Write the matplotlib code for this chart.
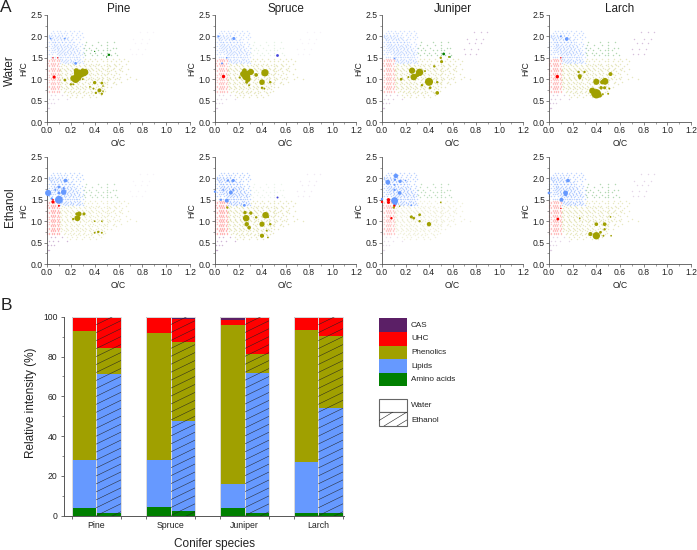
import matplotlib
matplotlib.use("Agg")
import matplotlib.pyplot as plt
from matplotlib.patches import Rectangle
from matplotlib.ticker import MultipleLocator

plt.rcParams["font.family"] = ["Liberation Sans", "DejaVu Sans"]

W, H = 697, 550

species = ["Pine", "Spruce", "Juniper", "Larch"]
solvents = ["Water", "Ethanol"]
classes = ["Amino acids", "Lipids", "Phenolics", "UHC", "CAS"]
class_colors = ["#008000", "#6699ff", "#a0a000", "#ff0000", "#5b1f66"]

# segment heights, bottom to top
amino_water = [4.0, 4.3, 4.0, 1.3]
lipid_water = [24.0, 23.9, 12.0, 25.7]
phenol_water = [64.8, 63.6, 79.8, 66.3]
uhc_water = [6.5, 7.5, 2.7, 6.2]
cas_water = [0.7, 0.7, 1.5, 0.5]

amino_ethanol = [1.3, 2.2, 1.3, 1.3]
lipid_ethanol = [70.0, 45.6, 70.2, 52.7]
phenol_ethanol = [12.9, 39.7, 10.0, 36.2]
uhc_ethanol = [15.3, 11.3, 18.2, 9.4]
cas_ethanol = [0.5, 1.2, 0.3, 0.4]

# faint formula clouds, read roughly row by row: (H/C, [O/C values])
lipid_rows = [
    (2.13, [0.05, 0.08, 0.11, 0.15, 0.19, 0.23, 0.27]),
    (2.08, [0.03, 0.06, 0.09, 0.12, 0.14, 0.17, 0.21, 0.25, 0.29]),
    (2.03, [0.02, 0.04, 0.07, 0.1, 0.13, 0.16, 0.2, 0.24, 0.28]),
    (1.98, [0.0, 0.02, 0.05, 0.08, 0.11, 0.15, 0.18, 0.22, 0.26, 0.3]),
    (1.93, [0.0, 0.03, 0.06, 0.09, 0.12, 0.14, 0.17, 0.21, 0.24, 0.28]),
    (1.88, [0.0, 0.02, 0.05, 0.07, 0.1, 0.13, 0.16, 0.19, 0.23, 0.27]),
    (1.83, [0.0, 0.03, 0.06, 0.08, 0.11, 0.14, 0.18, 0.21, 0.25, 0.29]),
    (1.78, [0.0, 0.02, 0.04, 0.07, 0.09, 0.12, 0.15, 0.17, 0.2, 0.24, 0.28]),
    (1.73, [0.0, 0.03, 0.05, 0.08, 0.1, 0.13, 0.16, 0.19, 0.22, 0.26, 0.3]),
    (1.68, [0.0, 0.02, 0.04, 0.06, 0.09, 0.12, 0.14, 0.18, 0.21, 0.25, 0.28]),
    (1.63, [0.0, 0.03, 0.05, 0.07, 0.1, 0.13, 0.15, 0.17, 0.2, 0.23, 0.27, 0.3]),
    (1.58, [0.0, 0.02, 0.04, 0.08, 0.11, 0.14, 0.16, 0.19, 0.22, 0.26, 0.29]),
    (1.53, [0.0, 0.03, 0.05, 0.07, 0.09, 0.12, 0.15, 0.18, 0.21, 0.24, 0.27, 0.3]),
    (1.48, [0.11, 0.13, 0.16, 0.19, 0.23, 0.25, 0.28]),
    (1.43, [0.12, 0.14, 0.17, 0.2, 0.22, 0.26, 0.29]),
    (1.38, [0.11, 0.15, 0.18, 0.21, 0.24, 0.27, 0.3]),
    # streaks fanning out from the top left corner
    (2.0, [0.015, 0.035, 0.065, 0.095, 0.125]),
    (1.96, [0.025, 0.045, 0.075, 0.105, 0.135, 0.165]),
    (1.91, [0.035, 0.055, 0.085, 0.115, 0.145, 0.175, 0.205]),
    (1.86, [0.045, 0.065, 0.095, 0.125, 0.155, 0.185, 0.215]),
    (1.81, [0.055, 0.075, 0.105, 0.135, 0.165, 0.195, 0.225]),
    (1.76, [0.06, 0.085, 0.115, 0.145, 0.175, 0.205, 0.235]),
    (1.71, [0.07, 0.095, 0.125, 0.155, 0.185, 0.215, 0.245]),
    (1.66, [0.08, 0.105, 0.135, 0.165, 0.195, 0.225, 0.255]),
    (1.61, [0.09, 0.115, 0.145, 0.175, 0.205, 0.235, 0.265]),
    (1.56, [0.1, 0.125, 0.155, 0.185, 0.215, 0.245, 0.275]),
    (1.51, [0.11, 0.135, 0.165, 0.195, 0.225, 0.255]),
    (1.46, [0.125, 0.15, 0.175, 0.205, 0.235, 0.265]),
    (1.41, [0.135, 0.16, 0.19, 0.22, 0.25, 0.28]),
]
phenol_rows = [
    (1.48, [0.32, 0.36, 0.4, 0.45, 0.5, 0.55, 0.6, 0.65]),
    (1.42, [0.31, 0.34, 0.38, 0.42, 0.47, 0.5, 0.54, 0.58, 0.62, 0.68]),
    (1.36, [0.13, 0.18, 0.22, 0.33, 0.37, 0.41, 0.44, 0.5, 0.56, 0.6, 0.66]),
    (1.3, [0.12, 0.16, 0.2, 0.24, 0.28, 0.32, 0.36, 0.4, 0.45, 0.5, 0.53, 0.58, 0.63]),
    (1.24, [0.11, 0.14, 0.18, 0.22, 0.26, 0.3, 0.34, 0.38, 0.43, 0.47, 0.5, 0.55, 0.6, 0.68]),
    (1.18, [0.12, 0.16, 0.2, 0.24, 0.28, 0.32, 0.36, 0.41, 0.45, 0.5, 0.52, 0.57, 0.63]),
    (1.12, [0.11, 0.15, 0.19, 0.23, 0.27, 0.31, 0.35, 0.39, 0.43, 0.48, 0.5, 0.54, 0.6, 0.66]),
    (1.06, [0.13, 0.17, 0.21, 0.25, 0.29, 0.33, 0.37, 0.42, 0.46, 0.5, 0.55, 0.61, 0.7]),
    (1.0, [0.11, 0.14, 0.18, 0.22, 0.25, 0.28, 0.31, 0.34, 0.37, 0.4, 0.43, 0.46, 0.5, 0.53, 0.57, 0.6, 0.67, 0.75]),
    (0.94, [0.12, 0.16, 0.2, 0.24, 0.27, 0.32, 0.36, 0.39, 0.44, 0.48, 0.5, 0.56, 0.62]),
    (0.88, [0.11, 0.15, 0.19, 0.23, 0.26, 0.3, 0.35, 0.38, 0.42, 0.47, 0.5, 0.58]),
    (0.82, [0.13, 0.17, 0.21, 0.25, 0.29, 0.33, 0.37, 0.41, 0.45, 0.5, 0.54]),
    (0.76, [0.12, 0.16, 0.2, 0.24, 0.28, 0.32, 0.36, 0.4, 0.44, 0.48]),
    (0.7, [0.14, 0.18, 0.22, 0.26, 0.3, 0.34, 0.38, 0.43, 0.47]),
    (0.64, [0.17, 0.21, 0.25, 0.31, 0.35, 0.39, 0.45]),
    (0.58, [0.19, 0.24, 0.29, 0.36, 0.41]),
    # in-between rows
    (1.33, [0.14, 0.19, 0.23, 0.27, 0.31, 0.35, 0.39, 0.43, 0.48, 0.52, 0.57]),
    (1.27, [0.13, 0.17, 0.21, 0.25, 0.29, 0.33, 0.37, 0.41, 0.46, 0.51, 0.56, 0.62]),
    (1.21, [0.11, 0.15, 0.19, 0.23, 0.27, 0.31, 0.35, 0.39, 0.44, 0.49, 0.54, 0.61]),
    (1.15, [0.13, 0.17, 0.21, 0.25, 0.29, 0.33, 0.37, 0.42, 0.46, 0.51, 0.58]),
    (1.09, [0.12, 0.16, 0.2, 0.24, 0.28, 0.32, 0.36, 0.4, 0.45, 0.49, 0.56]),
    (1.03, [0.13, 0.17, 0.21, 0.26, 0.3, 0.35, 0.39, 0.44, 0.47, 0.52, 0.59]),
    (0.97, [0.11, 0.15, 0.19, 0.23, 0.28, 0.33, 0.38, 0.42, 0.46, 0.51]),
    (0.91, [0.13, 0.17, 0.21, 0.25, 0.29, 0.34, 0.4, 0.45, 0.49, 0.55]),
    (0.85, [0.12, 0.16, 0.2, 0.24, 0.28, 0.32, 0.36, 0.43, 0.48]),
    (0.79, [0.14, 0.18, 0.22, 0.26, 0.3, 0.35, 0.39, 0.46]),
    (0.73, [0.15, 0.19, 0.23, 0.27, 0.31, 0.37, 0.42, 0.49]),
    (0.67, [0.2, 0.24, 0.28, 0.33, 0.37, 0.44]),
]
uhc_rows = [
    (1.48, [0.0, 0.03, 0.05, 0.07, 0.09]),
    (1.45, [0.0, 0.02, 0.04, 0.06, 0.08, 0.1]),
    (1.42, [0.0, 0.02, 0.04, 0.06, 0.08, 0.1]),
    (1.39, [0.0, 0.01, 0.03, 0.05, 0.07, 0.09]),
    (1.36, [0.0, 0.03, 0.05, 0.07, 0.09]),
    (1.33, [0.0, 0.02, 0.04, 0.06, 0.08]),
    (1.3, [0.0, 0.02, 0.04, 0.06, 0.08, 0.1]),
    (1.27, [0.0, 0.03, 0.05, 0.07, 0.09]),
    (1.24, [0.0, 0.03, 0.05, 0.07, 0.09]),
    (1.21, [0.0, 0.02, 0.04, 0.06, 0.08, 0.1]),
    (1.18, [0.0, 0.02, 0.04, 0.06, 0.08, 0.1]),
    (1.15, [0.0, 0.03, 0.05, 0.07, 0.09]),
    (1.12, [0.0, 0.03, 0.05, 0.07, 0.09]),
    (1.09, [0.0, 0.02, 0.04, 0.06, 0.08, 0.1]),
    (1.06, [0.0, 0.02, 0.04, 0.06, 0.08, 0.1]),
    (1.03, [0.0, 0.03, 0.05, 0.07, 0.09]),
    (1.0, [0.0, 0.03, 0.05, 0.07, 0.09]),
    (0.97, [0.0, 0.02, 0.04, 0.06, 0.08, 0.1]),
    (0.94, [0.0, 0.02, 0.04, 0.06, 0.08, 0.1]),
    (0.91, [0.0, 0.03, 0.05, 0.07, 0.09]),
    (0.88, [0.0, 0.03, 0.05, 0.07, 0.09]),
    (0.85, [0.0, 0.02, 0.04, 0.06, 0.08, 0.1]),
    (0.82, [0.0, 0.02, 0.04, 0.06, 0.08, 0.1]),
    (0.79, [0.0, 0.03, 0.05, 0.07, 0.09]),
    (0.76, [0.0, 0.03, 0.05, 0.07, 0.09]),
    (0.73, [0.0, 0.02, 0.04, 0.06, 0.08, 0.1]),
    (0.7, [0.0, 0.02, 0.04, 0.06, 0.08, 0.1]),
]
amino_rows = [
    (1.86, [0.33, 0.43, 0.5, 0.56]),
    (1.8, [0.32, 0.38, 0.45, 0.5]),
    (1.74, [0.31, 0.35, 0.41, 0.5, 0.55, 0.58]),
    (1.68, [0.33, 0.37, 0.43, 0.47, 0.5, 0.53]),
    (1.62, [0.31, 0.36, 0.4, 0.45, 0.5, 0.57]),
    (1.56, [0.32, 0.38, 0.42, 0.47, 0.5, 0.54, 0.59]),
]
cas_high_rows = [
    (2.1, [0.78, 0.84, 0.89]),
    (1.95, [0.72, 0.8, 0.86]),
    (1.85, [0.74, 0.79, 0.84]),
    (1.7, [0.7, 0.76, 0.82]),
    (1.58, [0.71, 0.75, 0.8]),
]
cas_low_rows = [
    (0.62, [0.03, 0.07, 0.13]),
    (0.54, [0.02, 0.05, 0.09, 0.17]),
    (0.45, [0.01, 0.03, 0.06]),
    (0.32, [0.01, 0.02]),
]
cloud_rows = [amino_rows, lipid_rows, phenol_rows, uhc_rows, cas_high_rows, cas_low_rows]
cloud_colors = ["#008000", "#6699ff", "#a0a000", "#ff0000", "#7a2f8a", "#7a2f8a"]

# opacity of each cloud per panel: amino, lipids, phenolics, UHC, CAS high, CAS low
cloud_alpha = {
    ("Water", "Pine"): [0.3, 0.3, 0.25, 0.2, 0.06, 0.2],
    ("Water", "Spruce"): [0.1, 0.3, 0.25, 0.2, 0.06, 0.2],
    ("Water", "Juniper"): [0.3, 0.3, 0.25, 0.2, 0.3, 0.25],
    ("Water", "Larch"): [0.3, 0.35, 0.25, 0.22, 0.3, 0.25],
    ("Ethanol", "Pine"): [0.25, 0.4, 0.2, 0.25, 0.06, 0.35],
    ("Ethanol", "Spruce"): [0.08, 0.45, 0.25, 0.25, 0.1, 0.35],
    ("Ethanol", "Juniper"): [0.25, 0.42, 0.14, 0.18, 0.0, 0.15],
    ("Ethanol", "Larch"): [0.3, 0.42, 0.24, 0.22, 0.2, 0.2],
}

# stronger peaks per panel: (O/C, H/C, marker area)
peaks = {
    ("Water", "Pine"): {
        "#a0a000": [(0.22, 1.02, 18), (0.24, 1.0, 30), (0.255, 1.05, 36), (0.25, 1.15, 18), (0.245, 1.2, 12),
                    (0.27, 1.1, 26), (0.29, 1.13, 26), (0.31, 1.15, 26), (0.32, 1.17, 20), (0.3, 1.19, 14),
                    (0.27, 1.17, 12), (0.33, 1.15, 8), (0.15, 0.98, 4), (0.2, 0.88, 3), (0.22, 0.88, 2),
                    (0.4, 0.92, 6), (0.46, 0.91, 4), (0.44, 0.74, 8), (0.41, 0.68, 3), (0.46, 0.66, 3),
                    (0.39, 0.78, 2), (0.36, 0.82, 1.5), (0.47, 0.72, 1.5), (0.47, 0.84, 1.5), (0.3, 1.0, 2)],
        "#6699ff": [(0.24, 1.37, 4), (0.15, 1.95, 1.5), (0.03, 1.95, 1.5)],
        "#ff0000": [(0.06, 1.05, 5), (0.09, 1.5, 1), (0.05, 1.5, 1)],
        "#008000": [(0.52, 1.57, 3), (0.5, 1.52, 0.8), (0.4, 1.65, 0.8)],
    },
    ("Water", "Spruce"): {
        "#a0a000": [(0.425, 1.15, 28), (0.265, 1.07, 36), (0.305, 1.17, 20), (0.25, 1.2, 11), (0.4, 0.93, 16),
                    (0.35, 1.1, 7), (0.27, 0.93, 5), (0.47, 0.93, 3), (0.4, 0.8, 3), (0.21, 1.04, 2.5),
                    (0.29, 0.86, 2), (0.24, 1.12, 20), (0.28, 1.0, 16), (0.27, 1.13, 18), (0.42, 0.78, 2)],
        "#6699ff": [(0.16, 1.95, 5), (0.03, 2.0, 2), (0.06, 1.37, 2), (0.1, 1.5, 1.5)],
        "#4444dd": [(0.525, 1.57, 4)],
        "#ff0000": [(0.07, 1.07, 6)],
    },
    ("Water", "Juniper"): {
        "#a0a000": [(0.256, 1.2, 20), (0.27, 1.05, 22), (0.32, 1.16, 28), (0.4, 0.94, 34), (0.163, 1.0, 4),
                    (0.47, 0.68, 7), (0.507, 1.41, 5), (0.5, 1.5, 3), (0.57, 1.52, 2), (0.445, 1.3, 3),
                    (0.366, 1.19, 2), (0.41, 0.8, 4), (0.34, 0.86, 3), (0.47, 0.93, 3), (0.225, 1.05, 2),
                    (0.3, 1.1, 10)],
        "#6699ff": [(0.1, 1.5, 1.5)],
        "#008000": [(0.525, 1.59, 4), (0.58, 1.52, 1)],
    },
    ("Water", "Larch"): {
        "#a0a000": [(0.4, 0.66, 46), (0.366, 0.73, 20), (0.4, 0.94, 20), (0.473, 0.95, 24), (0.52, 1.12, 8),
                    (0.26, 1.07, 9), (0.25, 1.17, 3), (0.3, 1.17, 3), (0.44, 0.8, 6), (0.47, 0.8, 5),
                    (0.51, 0.78, 2), (0.455, 0.65, 2), (0.5, 0.66, 2), (0.26, 1.03, 4), (0.43, 0.62, 9),
                    (0.38, 0.65, 14), (0.45, 0.93, 10)],
        "#6699ff": [(0.15, 1.94, 7), (0.1, 2.0, 2)],
        "#ff0000": [(0.07, 1.06, 6), (0.1, 1.5, 1)],
    },
    ("Ethanol", "Pine"): {
        "#6699ff": [(0.01, 1.66, 20), (0.1, 1.5, 32), (0.14, 1.68, 16), (0.155, 1.95, 7), (0.1, 1.66, 4),
                    (0.1, 1.8, 4), (0.04, 1.53, 3), (0.14, 1.77, 3), (0.07, 1.73, 2)],
        "#ff0000": [(0.05, 1.45, 5), (0.1, 1.36, 2), (0.05, 1.5, 1.5)],
        "#a0a000": [(0.255, 1.07, 18), (0.27, 1.17, 12), (0.31, 1.17, 5), (0.25, 1.17, 5), (0.22, 1.05, 3),
                    (0.43, 0.75, 3), (0.4, 0.73, 2), (0.46, 0.73, 2), (0.4, 1.0, 1.5), (0.46, 1.0, 1.5)],
    },
    ("Ethanol", "Spruce"): {
        "#6699ff": [(0.0, 1.69, 3), (0.1, 1.48, 8), (0.155, 1.95, 5), (0.135, 1.67, 8), (0.11, 1.95, 3),
                    (0.05, 1.5, 3), (0.25, 1.37, 4), (0.07, 1.73, 1.5), (0.155, 1.73, 2)],
        "#4444dd": [(0.525, 1.57, 2)],
        "#a0a000": [(0.265, 1.07, 22), (0.255, 1.2, 6), (0.305, 1.19, 6), (0.43, 1.14, 22), (0.4, 0.93, 14),
                    (0.27, 0.93, 10), (0.29, 0.85, 7), (0.4, 0.66, 9), (0.47, 0.93, 3), (0.35, 1.09, 3),
                    (0.44, 0.78, 2), (0.45, 1.1, 3), (0.45, 0.62, 1.5), (0.105, 1.32, 3)],
    },
    ("Ethanol", "Juniper"): {
        "#6699ff": [(0.107, 1.48, 25), (0.05, 1.91, 12), (0.118, 2.06, 10), (0.11, 1.42, 10), (0.15, 1.66, 7),
                    (0.155, 1.93, 5), (0.107, 1.73, 3), (0.11, 1.97, 3), (0.0, 1.52, 3), (0.2, 1.95, 1.5),
                    (0.107, 1.85, 2), (0.25, 1.37, 1.5)],
        "#ff0000": [(0.055, 1.5, 6), (0.055, 1.44, 5), (0.0, 1.45, 3), (0.08, 1.07, 3), (0.105, 1.36, 3)],
        "#a0a000": [(0.4, 0.93, 10), (0.25, 1.1, 5), (0.27, 1.07, 4), (0.32, 1.15, 4), (0.32, 1.0, 3),
                    (0.5, 1.44, 1.5), (0.1, 1.32, 3), (0.15, 1.35, 1)],
    },
    ("Ethanol", "Larch"): {
        "#6699ff": [(0.0, 1.66, 4), (0.14, 1.66, 12), (0.105, 1.5, 8), (0.16, 1.95, 7), (0.14, 1.62, 5)],
        "#ff0000": [(0.075, 1.05, 4), (0.1, 1.3, 1)],
        "#a0a000": [(0.4, 0.66, 28), (0.35, 0.7, 9), (0.4, 0.93, 7), (0.47, 0.93, 7), (0.435, 0.74, 4),
                    (0.47, 0.81, 3), (0.46, 0.66, 2), (0.525, 0.66, 1.5), (0.26, 1.07, 1.5), (0.52, 1.1, 1.5)],
    },
}

axis_color = "#555555"
text_color = "#222222"


def px_axes(fig, left, right, top, bottom):
    return fig.add_axes([left / W, 1 - bottom / H, (right - left) / W, (bottom - top) / H])


fig = plt.figure(figsize=(W / 100, H / 100), dpi=100)

# A. van Krevelen panels
panel_x = [(47, 190), (215, 356), (382, 523), (549, 691)]
panel_y = {"Water": (15, 122), "Ethanol": (157, 264)}

for solvent in solvents:
    top, bottom = panel_y[solvent]
    for name, (left, right) in zip(species, panel_x):
        ax = px_axes(fig, left, right, top, bottom)
        for rows, color, alpha in zip(cloud_rows, cloud_colors, cloud_alpha[(solvent, name)]):
            xs = [x for y, row in rows for x in row]
            ys = [y for y, row in rows for x in row]
            ax.scatter(xs, ys, s=1.1, color=color, alpha=alpha, linewidths=0, clip_on=False)
        for color, pts in peaks[(solvent, name)].items():
            ax.scatter([p[0] for p in pts], [p[1] for p in pts], s=[p[2] for p in pts],
                       color=color, linewidths=0, clip_on=False, zorder=3)
        ax.set_xlim(0, 1.2)
        ax.set_ylim(0, 2.5)
        ax.xaxis.set_major_locator(MultipleLocator(0.2))
        ax.xaxis.set_minor_locator(MultipleLocator(0.1))
        ax.yaxis.set_major_locator(MultipleLocator(0.5))
        ax.yaxis.set_minor_locator(MultipleLocator(0.25))
        ax.spines["top"].set_visible(False)
        ax.spines["right"].set_visible(False)
        for side in ["left", "bottom"]:
            ax.spines[side].set_color(axis_color)
            ax.spines[side].set_linewidth(0.6)
        ax.tick_params(which="major", length=2, width=0.5, color=axis_color, labelsize=6.2,
                       labelcolor=text_color, pad=1)
        ax.tick_params(which="minor", length=1.1, width=0.4, color=axis_color)
        ax.set_xlabel("O/C", fontsize=6.2, color=text_color, labelpad=3)
        ax.set_ylabel("H/C", fontsize=6.2, color=text_color, labelpad=1.5)
        if solvent == "Water":
            ax.set_title(name, fontsize=8.4, color=text_color, pad=1)

# B. stacked bars
bar_ax = px_axes(fig, 64, 343.5, 316.7, 515.7)
bar_w = 24.6
group_left = [71.7, 145.9, 220, 293.8]
water_stack = [amino_water, lipid_water, phenol_water, uhc_water, cas_water]
ethanol_stack = [amino_ethanol, lipid_ethanol, phenol_ethanol, uhc_ethanol, cas_ethanol]

bar_ax.set_xlim(64, 343.5)
bar_ax.set_ylim(0, 100)

for i, gx in enumerate(group_left):
    for offset, stack in [(0, water_stack), (bar_w, ethanol_stack)]:
        base = 0
        for vals, color in zip(stack, class_colors):
            bar_ax.bar(gx + offset, vals[i], bar_w, bottom=base, align="edge", color=color,
                       linewidth=0, zorder=2)
            base += vals[i]
        frame = Rectangle((gx + offset, 0), bar_w, 100, fill=False, edgecolor="#dcdcdc", linewidth=0.7, zorder=3)
        bar_ax.add_patch(frame)
    # shallow hatching of the ethanol bar, not one of the built-in hatch angles
    clip = Rectangle((gx + bar_w, 0), bar_w, 100, transform=bar_ax.transData)
    for start in range(-12, 100, 4):
        line, = bar_ax.plot([gx + bar_w, gx + 2 * bar_w], [start, start + 6], color="#222222",
                            linewidth=0.35, zorder=4)
        line.set_clip_path(clip)

edges = []
for gx in group_left:
    edges += [gx, gx + 2 * bar_w]
bar_ax.set_xticks(edges)
bar_ax.set_xticklabels([])
bar_ax.yaxis.set_major_locator(MultipleLocator(20))
bar_ax.yaxis.set_minor_locator(MultipleLocator(10))
bar_ax.spines["top"].set_visible(False)
bar_ax.spines["right"].set_visible(False)
for side in ["left", "bottom"]:
    bar_ax.spines[side].set_color(axis_color)
    bar_ax.spines[side].set_linewidth(0.7)
bar_ax.tick_params(axis="x", length=2.2, width=0.6, color=axis_color)
bar_ax.tick_params(axis="y", which="major", length=2.5, width=0.6, color=axis_color, labelsize=6.2,
                   labelcolor=text_color, pad=2)
bar_ax.tick_params(axis="y", which="minor", length=1.4, width=0.5, color=axis_color)

# overlay in pixel coordinates for the free-floating text and legend
over = fig.add_axes([0, 0, 1, 1])
over.set_xlim(0, W)
over.set_ylim(H, 0)
over.axis("off")

over.text(-0.5, 8, "A", fontsize=12.5, color=text_color, va="center", ha="left")
over.text(1, 305, "B", fontsize=12.5, color=text_color, va="center", ha="left")
over.text(10, 71, "Water", fontsize=8.4, color=text_color, rotation=90, va="center", ha="center")
over.text(10, 207, "Ethanol", fontsize=8.4, color=text_color, rotation=90, va="center", ha="center")
over.text(31, 403, "Relative intensity (%)", fontsize=8.5, color=text_color, rotation=90, va="center", ha="center")

for gx, name, ly in zip(group_left, species, [526, 525.5, 525, 526]):
    over.text(gx + bar_w, ly, name, fontsize=6.3, color=text_color, ha="center", va="center")
over.text(215, 543.5, "Conifer species", fontsize=8.5, color=text_color, ha="center", va="center")

legend_y = [318.3, 332, 345.5, 359, 372.7]
legend_names = classes[::-1]
legend_colors = class_colors[::-1]
for y, label, color in zip(legend_y, legend_names, legend_colors):
    over.add_patch(Rectangle((379.3, y), 27.7, 13.6, facecolor=color, edgecolor="none"))
    over.text(411, y + 7, label, fontsize=5.9, color=text_color, va="center", ha="left")

over.add_patch(Rectangle((379, 398.5), 27.5, 13.5, facecolor="white", edgecolor="#666666", linewidth=0.8))
box = Rectangle((379, 412), 27.5, 14, facecolor="white", edgecolor="#666666", linewidth=0.8)
over.add_patch(box)
for x0, x1 in [(370, 393), (384, 407), (397, 420)]:
    hatch_line, = over.plot([x0, x1], [426, 412], color="#222222", linewidth=0.4)
    hatch_line.set_clip_path(box)
over.text(411, 405.5, "Water", fontsize=5.9, color=text_color, va="center", ha="left")
over.text(411, 420, "Ethanol", fontsize=5.9, color=text_color, va="center", ha="left")

plt.savefig("out.png", dpi=100)
